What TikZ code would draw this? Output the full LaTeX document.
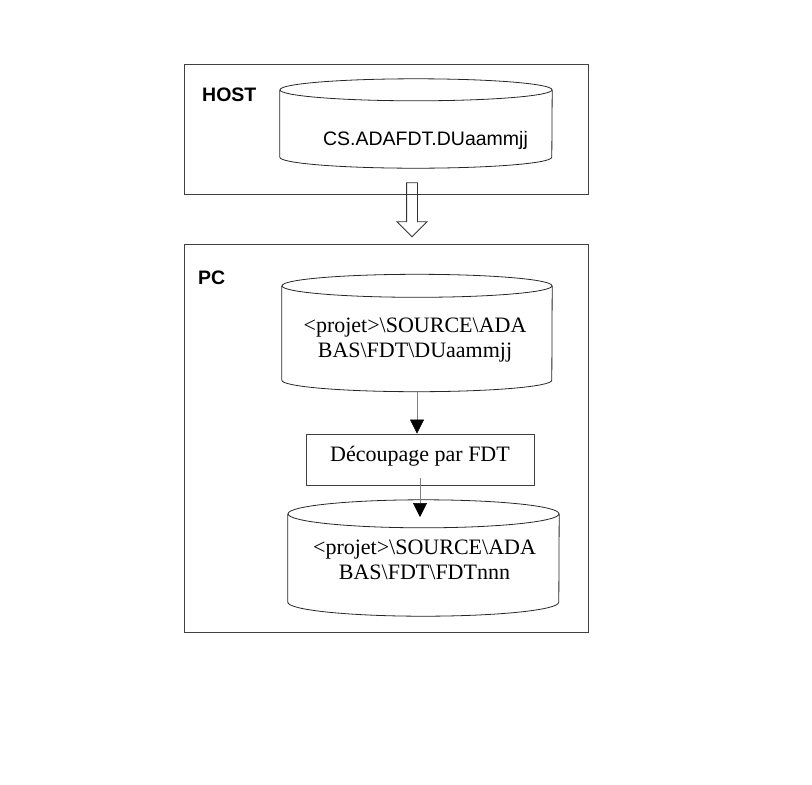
\documentclass[tikz,border=0pt]{standalone}
\usepackage{fontspec}
\setmainfont{Liberation Serif}
\setsansfont{Liberation Sans}
\usetikzlibrary{shapes.arrows, arrows.meta}
\def\serifsize{\fontsize{22}{25}\selectfont}
\def\sanssize{\fontsize{19.5}{22}\selectfont}
% #1 node name, #2 half width, #3 half height of the end ellipse
\def\disk#1#2#3{%
    \draw [diskline] (#1.north) ellipse [x radius=#2, y radius=#3];
    \draw [diskline] (#1.north west) -- (#1.south west) arc [start angle=180, end angle=0, x radius=#2, y radius=#3] -- (#1.north east);}
\tikzstyle{frame} = [rectangle, draw=black!75, line width=0.8pt, inner sep=0pt]
\tikzstyle{body} = [rectangle, inner sep=0pt]
\tikzstyle{diskline} = [draw=black!85, line width=0.8pt]
\tikzstyle{rect} = [rectangle, draw=black!75, line width=0.8pt, inner sep=0pt, font=\serifsize]
\tikzstyle{blank} = [rectangle, inner sep=0pt]
\tikzstyle{arrow} = [-{Triangle[width=14pt,length=14pt,color=black]}, draw=black!50, line width=0.6pt]
\tikzstyle{bigarrow} = [single arrow, shape border rotate=270, draw=black!80, line width=0.8pt, inner sep=5pt, single arrow head extend=9.5pt, minimum height=54pt]

\begin{document}
\begin{tikzpicture}[x=1pt, y=-1pt]
    \useasboundingbox (0,0) rectangle (812,785);
    % host side
    \node (host) [frame, minimum width=404pt, minimum height=130pt] at (386,129) {};
    \node (hostname) [blank, anchor=base west, font=\sanssize\sffamily\bfseries] at (202,101) {HOST};
    \node (disk0) [body, minimum width=272pt, minimum height=67pt] at (416,123.5) {};
    \disk{disk0}{136}{11}
    \node (dufile) [blank, anchor=base, font=\sanssize\sffamily] at (425.5,145) {CS.ADAFDT.DUaammjj};
    \node (xfer) [bigarrow] at (412,207) {};
    % pc side
    \node (pc) [frame, minimum width=404pt, minimum height=388pt] at (386,438) {};
    \node (pcname) [blank, anchor=base west, font=\sanssize\sffamily\bfseries] at (198,284) {PC};
    \node (disk1) [body, minimum width=270pt, minimum height=94pt] at (417,333) {};
    \disk{disk1}{135}{11.5}
    \node (dusrc) [blank, anchor=base, align=center, font=\serifsize] at (415,357) {<projet>\textbackslash SOURCE\textbackslash ADA\\BAS\textbackslash FDT\textbackslash DUaammjj};
    \node (cut) [rect, minimum width=228pt, minimum height=51pt, text height=12pt, text depth=9pt] at (420,459.5) {Découpage par FDT};
    \node (disk2) [body, minimum width=271pt, minimum height=88pt] at (423.5,558) {};
    \disk{disk2}{135.5}{14}
    \node (fdtsrc) [blank, anchor=base, align=center, font=\serifsize] at (424.5,579) {<projet>\textbackslash SOURCE\textbackslash ADA\\BAS\textbackslash FDT\textbackslash FDTnnn};
    \coordinate (land) at (420,517);
    \draw [arrow] ([yshift=-11.5pt]disk1.south) -- (disk1.south |- cut.north);
    \draw [arrow] ([yshift=7pt]cut.south) -- (land);
\end{tikzpicture}
\end{document}
